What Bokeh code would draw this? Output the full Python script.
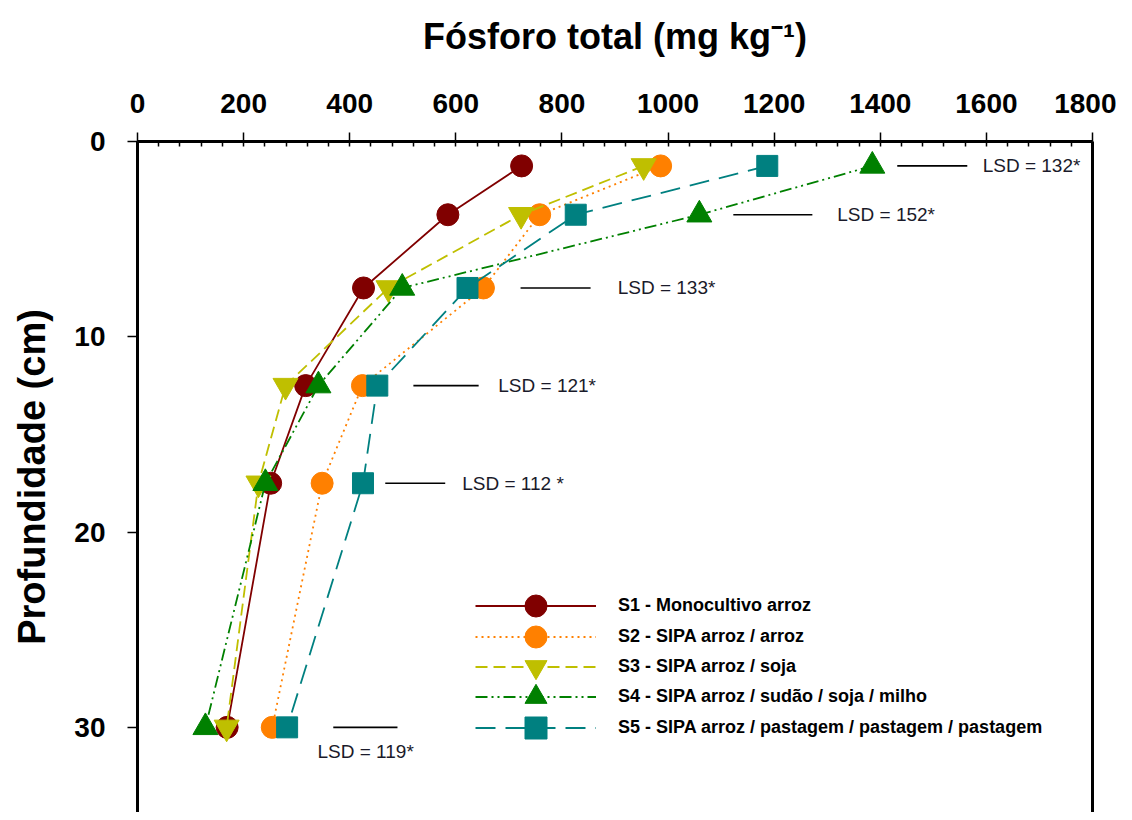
from bokeh.plotting import figure
from bokeh.models import (Range1d, LinearAxis, FixedTicker, SingleIntervalTicker,
                          Legend, LegendItem, ColumnDataSource)
from bokeh.core.properties import value
from bokeh.embed import file_html
from bokeh.resources import INLINE

# ---------------- data ----------------
depths = [1.25, 3.75, 7.5, 12.5, 17.5, 30]
s1_monocultivo = [724, 585, 426, 317, 251, 169]
s2_arroz_arroz = [986, 758, 652, 424, 348, 254]
s3_arroz_soja = [954, 723, 473, 279, 228, 168]
s4_sudao_soja_milho = [1385, 1059, 499, 341, 241, 128]
s5_pastagem = [1187, 826, 622, 452, 425, 282]

series_labels = ["S1 - Monocultivo arroz",
                 "S2 - SIPA arroz / arroz",
                 "S3 - SIPA arroz / soja",
                 "S4 - SIPA arroz / sudão / soja / milho",
                 "S5 - SIPA arroz / pastagem / pastagem / pastagem"]

lsd_labels = ["LSD = 132*", "LSD = 152*", "LSD = 133*", "LSD = 121*", "LSD = 112 *", "LSD = 119*"]

x_ticks_step = 200
y_ticks = [0, 10, 20, 30]

# ---------------- styling / layout ----------------
FONT = "Liberation Sans"
colors = ["#800000", "#FF8000", "#BFBF00", "#008000", "#008080"]
dashes = ["solid", "2 4", "12 6", "12 4 2 4 2 4", "20 10"]
markers = ["circle", "circle", "inverted_triangle", "triangle", "square"]
msizes = [22, 22, 25, 25, 21]

p = figure(width=1116, height=812,
           x_range=Range1d(0, 1800), y_range=Range1d(34.36, 0),
           x_axis_location="above", y_axis_location="left",
           output_backend="svg", toolbar_location=None,
           min_border_left=137, min_border_right=24,
           min_border_top=141, min_border_bottom=0)
p.outline_line_color = None
p.xgrid.visible = False
p.ygrid.visible = False
p.background_fill_color = "white"
p.border_fill_color = "white"

xa = p.xaxis[0]
xa.ticker = SingleIntervalTicker(interval=x_ticks_step, num_minor_ticks=5)
xa.axis_label = "Fósforo total (mg kg⁻¹)"
xa.axis_label_text_font = FONT
xa.axis_label_text_font_style = "bold"
xa.axis_label_text_font_size = "36px"
xa.axis_label_text_color = "black"
xa.axis_label_standoff = 34
xa.major_label_text_font = FONT
xa.major_label_text_font_style = "bold"
xa.major_label_text_font_size = "28px"
xa.major_label_text_color = "black"
xa.major_label_standoff = 20
xa.axis_line_width = 3
xa.major_tick_out = 9
xa.major_tick_in = 0
xa.major_tick_line_width = 1.5
xa.minor_tick_in = 5
xa.minor_tick_out = 0
xa.minor_tick_line_width = 1.5

ya = p.yaxis[0]
ya.ticker = FixedTicker(ticks=y_ticks)
ya.axis_label = "Profundidade (cm)"
ya.axis_label_text_font = FONT
ya.axis_label_text_font_style = "bold"
ya.axis_label_text_font_size = "38px"
ya.axis_label_text_color = "black"
ya.axis_label_standoff = 18
ya.major_label_text_font = FONT
ya.major_label_text_font_style = "bold"
ya.major_label_text_font_size = "28px"
ya.major_label_text_color = "black"
ya.major_label_standoff = 22
ya.axis_line_width = 3
ya.major_tick_out = 10
ya.major_tick_in = 0
ya.major_tick_line_width = 1.5
ya.minor_tick_line_color = None

ra = LinearAxis(ticker=FixedTicker(ticks=[]), axis_line_width=3,
                major_tick_line_color=None, minor_tick_line_color=None,
                major_label_text_font_size="0px")
p.add_layout(ra, "right")

# ---------------- series ----------------
all_series = [s1_monocultivo, s2_arroz_arroz, s3_arroz_soja, s4_sudao_soja_milho, s5_pastagem]
legend_rows_y = [179, 148, 118, 88, 57]   # screen offsets of the legend rows (px from frame bottom)
for vals, lab, c, d, m, s, ly in zip(all_series, series_labels, colors, dashes, markers, msizes, legend_rows_y):
    src = ColumnDataSource(dict(x=vals, y=depths))
    lr = p.line("x", "y", source=src, line_color=c, line_width=1.8, line_dash=d)
    mr = p.scatter("x", "y", source=src, marker=m, size=s, fill_color=c, line_color=c)
    lg = Legend(items=[LegendItem(label=lab, renderers=[lr, mr])],
                location=(338, ly), padding=0, margin=0,
                glyph_width=121, glyph_height=55, label_height=55, spacing=0,
                label_standoff=22, label_text_font=FONT, label_text_font_style="bold",
                label_text_font_size="18px", label_text_color="black",
                background_fill_alpha=0, border_line_color=None)
    p.add_layout(lg, "center")

# ---------------- LSD annotations ----------------
lsd_seg_x0 = [1432, 1123, 722, 520, 467, 369]
lsd_seg_x1 = [1564, 1272, 854, 643, 580, 490]
lsd_text_x = [1593, 1319, 905, 680, 612, 430]
lsd_text_y = depths[:5] + [31.25]
lsd_align = ["left"] * 5 + ["center"]

p.segment(x0=lsd_seg_x0, y0=depths, x1=lsd_seg_x1, y1=depths,
          line_color="black", line_width=1.6)
p.text(x=lsd_text_x, y=lsd_text_y, text=lsd_labels, text_align=lsd_align,
       text_baseline="middle", text_font=value(FONT), text_font_size="19px",
       text_color="#1a1a2a")

open("out.html", "w").write(file_html(p, INLINE))
